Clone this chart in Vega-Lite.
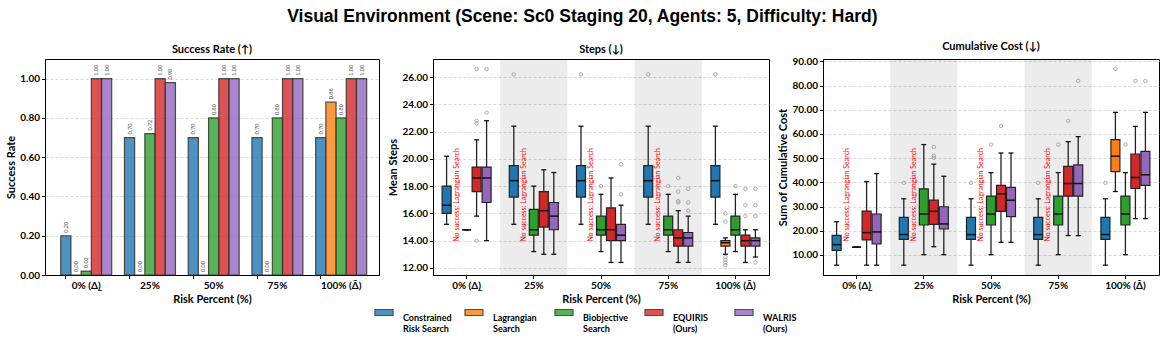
{
  "$schema": "https://vega.github.io/schema/vega-lite/v6.json",
  "padding": {"left": 5, "top": 8, "right": 5, "bottom": 5},
  "background": "white",
  "bounds": "flush",
  "spacing": 54,
  "title": {"text": "Visual Environment (Scene: Sc0 Staging 20, Agents: 5, Difficulty: Hard)", "fontSize": 17.5, "fontWeight": "bold", "font": "Liberation Sans", "anchor": "middle", "offset": 15, "color": "black"},
  "config": {
    "font": "Lato",
    "view": {"stroke": "black", "strokeWidth": 1},
    "axis": {"labelFont": "Lato", "labelFontWeight": "bold", "labelFontSize": 10, "labelColor": "black", "titleFont": "Lato", "titleFontSize": 11, "titleFontWeight": "bold", "titleColor": "black", "tickColor": "black", "tickSize": 3.5, "domainColor": "black", "gridColor": "#c8c8c8", "gridDash": [3, 2], "gridWidth": 0.7, "labelPadding": 2, "titlePadding": 3},
    "axisX": {"grid": false, "labelAngle": 0},
    "axisY": {"labelOverlap": false, "labelBound": false},
    "title": {"fontSize": 11, "fontWeight": "bold", "color": "black", "offset": 4, "font": "Lato"},
    "legend": {"padding": 0}
  },
  "datasets": {
    "success": [
      {"risk": "0% (Δ\u0332)", "method": "Constrained Risk Search", "rate": 0.20},
      {"risk": "0% (Δ\u0332)", "method": "Lagrangian Search", "rate": 0.00},
      {"risk": "0% (Δ\u0332)", "method": "Biobjective Search", "rate": 0.02},
      {"risk": "0% (Δ\u0332)", "method": "EQUIRIS (Ours)", "rate": 1.00},
      {"risk": "0% (Δ\u0332)", "method": "WALRIS (Ours)", "rate": 1.00},
      {"risk": "25%", "method": "Constrained Risk Search", "rate": 0.70},
      {"risk": "25%", "method": "Lagrangian Search", "rate": 0.00},
      {"risk": "25%", "method": "Biobjective Search", "rate": 0.72},
      {"risk": "25%", "method": "EQUIRIS (Ours)", "rate": 1.00},
      {"risk": "25%", "method": "WALRIS (Ours)", "rate": 0.98},
      {"risk": "50%", "method": "Constrained Risk Search", "rate": 0.70},
      {"risk": "50%", "method": "Lagrangian Search", "rate": 0.00},
      {"risk": "50%", "method": "Biobjective Search", "rate": 0.80},
      {"risk": "50%", "method": "EQUIRIS (Ours)", "rate": 1.00},
      {"risk": "50%", "method": "WALRIS (Ours)", "rate": 1.00},
      {"risk": "75%", "method": "Constrained Risk Search", "rate": 0.70},
      {"risk": "75%", "method": "Lagrangian Search", "rate": 0.00},
      {"risk": "75%", "method": "Biobjective Search", "rate": 0.80},
      {"risk": "75%", "method": "EQUIRIS (Ours)", "rate": 1.00},
      {"risk": "75%", "method": "WALRIS (Ours)", "rate": 1.00},
      {"risk": "100% (Δ\u0304)", "method": "Constrained Risk Search", "rate": 0.70},
      {"risk": "100% (Δ\u0304)", "method": "Lagrangian Search", "rate": 0.88},
      {"risk": "100% (Δ\u0304)", "method": "Biobjective Search", "rate": 0.80},
      {"risk": "100% (Δ\u0304)", "method": "EQUIRIS (Ours)", "rate": 1.00},
      {"risk": "100% (Δ\u0304)", "method": "WALRIS (Ours)", "rate": 1.00}
    ],
    "bands": [{"risk": "25%"}, {"risk": "75%"}],
    "nosuccess": [
      {"risk": "0% (Δ\u0332)", "method": "Lagrangian Search", "note": "No success: Lagrangian Search"},
      {"risk": "25%", "method": "Lagrangian Search", "note": "No success: Lagrangian Search"},
      {"risk": "50%", "method": "Lagrangian Search", "note": "No success: Lagrangian Search"},
      {"risk": "75%", "method": "Lagrangian Search", "note": "No success: Lagrangian Search"}
    ],
    "steps": [
      {"risk": "0% (Δ\u0332)", "method": "Constrained Risk Search", "lo": 15.2, "q1": 16.0, "med": 16.6, "q3": 18.0, "hi": 20.2},
      {"risk": "0% (Δ\u0332)", "method": "Biobjective Search", "lo": 14.8, "q1": 14.8, "med": 14.8, "q3": 14.8, "hi": 14.8},
      {"risk": "0% (Δ\u0332)", "method": "EQUIRIS (Ours)", "lo": 15.8, "q1": 17.6, "med": 18.6, "q3": 19.4, "hi": 21.4},
      {"risk": "0% (Δ\u0332)", "method": "WALRIS (Ours)", "lo": 14.0, "q1": 16.8, "med": 18.6, "q3": 19.4, "hi": 22.8},
      {"risk": "25%", "method": "Constrained Risk Search", "lo": 15.2, "q1": 17.2, "med": 18.4, "q3": 19.5, "hi": 22.4},
      {"risk": "25%", "method": "Biobjective Search", "lo": 13.2, "q1": 14.4, "med": 14.8, "q3": 16.3, "hi": 18.0},
      {"risk": "25%", "method": "EQUIRIS (Ours)", "lo": 13.0, "q1": 15.0, "med": 16.2, "q3": 17.6, "hi": 19.2},
      {"risk": "25%", "method": "WALRIS (Ours)", "lo": 13.0, "q1": 14.8, "med": 15.8, "q3": 16.8, "hi": 19.0},
      {"risk": "50%", "method": "Constrained Risk Search", "lo": 15.2, "q1": 17.2, "med": 18.4, "q3": 19.5, "hi": 22.4},
      {"risk": "50%", "method": "Biobjective Search", "lo": 13.2, "q1": 14.4, "med": 14.8, "q3": 15.8, "hi": 17.4},
      {"risk": "50%", "method": "EQUIRIS (Ours)", "lo": 12.4, "q1": 14.0, "med": 14.8, "q3": 16.4, "hi": 18.6},
      {"risk": "50%", "method": "WALRIS (Ours)", "lo": 12.4, "q1": 14.0, "med": 14.4, "q3": 15.2, "hi": 16.6},
      {"risk": "75%", "method": "Constrained Risk Search", "lo": 15.2, "q1": 17.2, "med": 18.4, "q3": 19.5, "hi": 22.4},
      {"risk": "75%", "method": "Biobjective Search", "lo": 13.2, "q1": 14.4, "med": 14.8, "q3": 15.8, "hi": 17.4},
      {"risk": "75%", "method": "EQUIRIS (Ours)", "lo": 12.4, "q1": 13.6, "med": 14.2, "q3": 14.8, "hi": 16.2},
      {"risk": "75%", "method": "WALRIS (Ours)", "lo": 12.4, "q1": 13.6, "med": 14.2, "q3": 14.6, "hi": 15.8},
      {"risk": "100% (Δ\u0304)", "method": "Constrained Risk Search", "lo": 15.2, "q1": 17.2, "med": 18.4, "q3": 19.5, "hi": 22.4},
      {"risk": "100% (Δ\u0304)", "method": "Lagrangian Search", "lo": 13.0, "q1": 13.6, "med": 13.85, "q3": 14.0, "hi": 14.2},
      {"risk": "100% (Δ\u0304)", "method": "Biobjective Search", "lo": 13.2, "q1": 14.4, "med": 14.8, "q3": 15.8, "hi": 17.4},
      {"risk": "100% (Δ\u0304)", "method": "EQUIRIS (Ours)", "lo": 12.4, "q1": 13.6, "med": 14.0, "q3": 14.4, "hi": 14.8},
      {"risk": "100% (Δ\u0304)", "method": "WALRIS (Ours)", "lo": 12.8, "q1": 13.6, "med": 14.0, "q3": 14.2, "hi": 14.8}
    ],
    "steps_out": [
      {"risk": "0% (Δ\u0332)", "method": "EQUIRIS (Ours)", "value": 26.6},
      {"risk": "0% (Δ\u0332)", "method": "EQUIRIS (Ours)", "value": 22.8},
      {"risk": "0% (Δ\u0332)", "method": "EQUIRIS (Ours)", "value": 22.6},
      {"risk": "0% (Δ\u0332)", "method": "EQUIRIS (Ours)", "value": 14.0},
      {"risk": "0% (Δ\u0332)", "method": "WALRIS (Ours)", "value": 26.6},
      {"risk": "0% (Δ\u0332)", "method": "WALRIS (Ours)", "value": 23.4},
      {"risk": "25%", "method": "Constrained Risk Search", "value": 26.2},
      {"risk": "50%", "method": "Constrained Risk Search", "value": 26.2},
      {"risk": "50%", "method": "Biobjective Search", "value": 18.0},
      {"risk": "50%", "method": "WALRIS (Ours)", "value": 19.6},
      {"risk": "50%", "method": "WALRIS (Ours)", "value": 17.4},
      {"risk": "75%", "method": "Constrained Risk Search", "value": 26.2},
      {"risk": "75%", "method": "Biobjective Search", "value": 18.0},
      {"risk": "75%", "method": "EQUIRIS (Ours)", "value": 18.6},
      {"risk": "75%", "method": "EQUIRIS (Ours)", "value": 17.6},
      {"risk": "75%", "method": "EQUIRIS (Ours)", "value": 16.9},
      {"risk": "75%", "method": "EQUIRIS (Ours)", "value": 16.8},
      {"risk": "75%", "method": "WALRIS (Ours)", "value": 17.8},
      {"risk": "75%", "method": "WALRIS (Ours)", "value": 16.8},
      {"risk": "75%", "method": "WALRIS (Ours)", "value": 16.2},
      {"risk": "100% (Δ\u0304)", "method": "Constrained Risk Search", "value": 26.2},
      {"risk": "100% (Δ\u0304)", "method": "Lagrangian Search", "value": 16.0},
      {"risk": "100% (Δ\u0304)", "method": "Lagrangian Search", "value": 15.4},
      {"risk": "100% (Δ\u0304)", "method": "Lagrangian Search", "value": 12.8},
      {"risk": "100% (Δ\u0304)", "method": "Lagrangian Search", "value": 12.6},
      {"risk": "100% (Δ\u0304)", "method": "Lagrangian Search", "value": 12.4},
      {"risk": "100% (Δ\u0304)", "method": "Lagrangian Search", "value": 12.2},
      {"risk": "100% (Δ\u0304)", "method": "Biobjective Search", "value": 18.0},
      {"risk": "100% (Δ\u0304)", "method": "EQUIRIS (Ours)", "value": 17.8},
      {"risk": "100% (Δ\u0304)", "method": "EQUIRIS (Ours)", "value": 16.6},
      {"risk": "100% (Δ\u0304)", "method": "EQUIRIS (Ours)", "value": 15.8},
      {"risk": "100% (Δ\u0304)", "method": "WALRIS (Ours)", "value": 17.8},
      {"risk": "100% (Δ\u0304)", "method": "WALRIS (Ours)", "value": 16.6},
      {"risk": "100% (Δ\u0304)", "method": "WALRIS (Ours)", "value": 15.8},
      {"risk": "100% (Δ\u0304)", "method": "WALRIS (Ours)", "value": 12.4}
    ],
    "cost": [
      {"risk": "0% (Δ\u0332)", "method": "Constrained Risk Search", "lo": 5.75, "q1": 11.9, "med": 14.25, "q3": 18.1, "hi": 23.7},
      {"risk": "0% (Δ\u0332)", "method": "Biobjective Search", "lo": 13.2, "q1": 13.2, "med": 13.2, "q3": 13.2, "hi": 13.2},
      {"risk": "0% (Δ\u0332)", "method": "EQUIRIS (Ours)", "lo": 5.75, "q1": 16.2, "med": 19.2, "q3": 28.1, "hi": 40.3},
      {"risk": "0% (Δ\u0332)", "method": "WALRIS (Ours)", "lo": 5.75, "q1": 14.5, "med": 19.5, "q3": 26.9, "hi": 43.6},
      {"risk": "25%", "method": "Constrained Risk Search", "lo": 5.75, "q1": 16.45, "med": 18.4, "q3": 25.5, "hi": 33.2},
      {"risk": "25%", "method": "Biobjective Search", "lo": 10.1, "q1": 22.35, "med": 26.9, "q3": 37.3, "hi": 55.6},
      {"risk": "25%", "method": "EQUIRIS (Ours)", "lo": 13.4, "q1": 22.6, "med": 28.0, "q3": 32.6, "hi": 47.5},
      {"risk": "25%", "method": "WALRIS (Ours)", "lo": 10.1, "q1": 20.7, "med": 22.8, "q3": 29.9, "hi": 42.5},
      {"risk": "50%", "method": "Constrained Risk Search", "lo": 5.75, "q1": 16.45, "med": 18.4, "q3": 25.5, "hi": 33.2},
      {"risk": "50%", "method": "Biobjective Search", "lo": 10.1, "q1": 22.35, "med": 26.9, "q3": 34.3, "hi": 44.0},
      {"risk": "50%", "method": "EQUIRIS (Ours)", "lo": 15.2, "q1": 28.0, "med": 35.25, "q3": 38.7, "hi": 52.1},
      {"risk": "50%", "method": "WALRIS (Ours)", "lo": 15.2, "q1": 25.8, "med": 32.6, "q3": 37.9, "hi": 52.1},
      {"risk": "75%", "method": "Constrained Risk Search", "lo": 5.75, "q1": 16.45, "med": 18.4, "q3": 25.5, "hi": 33.2},
      {"risk": "75%", "method": "Biobjective Search", "lo": 10.1, "q1": 22.35, "med": 26.9, "q3": 34.3, "hi": 44.0},
      {"risk": "75%", "method": "EQUIRIS (Ours)", "lo": 18.0, "q1": 34.3, "med": 39.5, "q3": 46.6, "hi": 56.8},
      {"risk": "75%", "method": "WALRIS (Ours)", "lo": 18.0, "q1": 34.3, "med": 39.5, "q3": 47.2, "hi": 58.9},
      {"risk": "100% (Δ\u0304)", "method": "Constrained Risk Search", "lo": 5.75, "q1": 16.45, "med": 18.4, "q3": 25.5, "hi": 33.2},
      {"risk": "100% (Δ\u0304)", "method": "Lagrangian Search", "lo": 36.2, "q1": 44.45, "med": 50.8, "q3": 57.6, "hi": 68.9},
      {"risk": "100% (Δ\u0304)", "method": "Biobjective Search", "lo": 10.1, "q1": 22.35, "med": 26.9, "q3": 34.3, "hi": 44.0},
      {"risk": "100% (Δ\u0304)", "method": "EQUIRIS (Ours)", "lo": 25.0, "q1": 37.45, "med": 42.0, "q3": 51.7, "hi": 63.1},
      {"risk": "100% (Δ\u0304)", "method": "WALRIS (Ours)", "lo": 25.0, "q1": 38.7, "med": 43.1, "q3": 52.8, "hi": 68.9}
    ],
    "cost_out": [
      {"risk": "25%", "method": "Constrained Risk Search", "value": 39.8},
      {"risk": "25%", "method": "EQUIRIS (Ours)", "value": 54.6},
      {"risk": "25%", "method": "EQUIRIS (Ours)", "value": 51.0},
      {"risk": "25%", "method": "EQUIRIS (Ours)", "value": 50.1},
      {"risk": "50%", "method": "Constrained Risk Search", "value": 39.8},
      {"risk": "50%", "method": "Biobjective Search", "value": 55.6},
      {"risk": "50%", "method": "EQUIRIS (Ours)", "value": 63.3},
      {"risk": "75%", "method": "Constrained Risk Search", "value": 39.8},
      {"risk": "75%", "method": "Biobjective Search", "value": 55.6},
      {"risk": "75%", "method": "EQUIRIS (Ours)", "value": 65.4},
      {"risk": "75%", "method": "WALRIS (Ours)", "value": 81.9},
      {"risk": "100% (Δ\u0304)", "method": "Constrained Risk Search", "value": 39.8},
      {"risk": "100% (Δ\u0304)", "method": "Lagrangian Search", "value": 86.9},
      {"risk": "100% (Δ\u0304)", "method": "Biobjective Search", "value": 55.6},
      {"risk": "100% (Δ\u0304)", "method": "EQUIRIS (Ours)", "value": 81.9},
      {"risk": "100% (Δ\u0304)", "method": "WALRIS (Ours)", "value": 81.9}
    ]
  },
  "resolve": {"scale": {"x": "independent", "y": "independent", "xOffset": "independent", "color": "shared"}, "legend": {"color": "shared"}},
  "hconcat": [
    {
      "width": 334, "height": 216,
      "title": "Success Rate (↑)",
      "data": {"name": "success"},
      "layer": [
        {
          "mark": {"type": "bar", "fillOpacity": 0.8, "stroke": "#333", "strokeOpacity": 0.85, "strokeWidth": 1.2},
          "encoding": {
            "x": {"field": "risk", "type": "nominal", "scale": {"domain": ["0% (Δ\u0332)", "25%", "50%", "75%", "100% (Δ\u0304)"], "paddingInner": 0.2, "paddingOuter": 0.22, "align": 0.56}, "axis": {"title": "Risk Percent (%)", "bandPosition": 0.1}},
            "xOffset": {"field": "method", "type": "nominal", "scale": {"domain": ["Constrained Risk Search", "Lagrangian Search", "Biobjective Search", "EQUIRIS (Ours)", "WALRIS (Ours)"], "paddingInner": 0, "paddingOuter": 0}},
            "y": {"field": "rate", "type": "quantitative", "scale": {"domain": [0, 1.1], "nice": false}, "axis": {"title": "Success Rate", "values": [0, 0.2, 0.4, 0.6, 0.8, 1.0], "format": ".2f", "labelOverlap": false}},
            "color": {
              "field": "method", "type": "nominal",
              "scale": {"domain": ["Constrained Risk Search", "Lagrangian Search", "Biobjective Search", "EQUIRIS (Ours)", "WALRIS (Ours)"], "range": ["#1f77b4", "#ff7f0e", "#2ca02c", "#d62728", "#9467bd"]},
              "legend": {
                "orient": "none", "legendX": 329, "legendY": 249, "direction": "horizontal", "columns": 5, "title": null,
                "labelFont": "Lato", "labelFontSize": 9, "labelFontWeight": "bold", "labelColor": "black",
                "symbolType": "M-1,-0.944H1V-0.278H-1Z", "symbolSize": 324, "symbolStrokeColor": "#333", "symbolStrokeWidth": 1.2, "symbolOpacity": 0.8,
                "labelOffset": 9, "columnPadding": 10, "gridAlign": "all", "labelBaseline": "middle",
                "labelExpr": "{'Constrained Risk Search': ['Constrained', 'Risk Search'], 'Lagrangian Search': ['Lagrangian', 'Search'], 'Biobjective Search': ['Biobjective', 'Search'], 'EQUIRIS (Ours)': ['EQUIRIS', '\u00a0\u00a0\u00a0(Ours)'], 'WALRIS (Ours)': ['WALRIS', '\u00a0\u00a0(Ours)']}[datum.label]"
              }
            }
          }
        },
        {
          "mark": {"type": "text", "angle": 270, "align": "left", "baseline": "middle", "dx": 3, "fontSize": 5.5, "color": "#555"},
          "encoding": {
            "x": {"field": "risk", "type": "nominal", "scale": {"domain": ["0% (Δ\u0332)", "25%", "50%", "75%", "100% (Δ\u0304)"], "paddingInner": 0.2, "paddingOuter": 0.22, "align": 0.56}},
            "xOffset": {"field": "method", "type": "nominal", "scale": {"domain": ["Constrained Risk Search", "Lagrangian Search", "Biobjective Search", "EQUIRIS (Ours)", "WALRIS (Ours)"], "paddingInner": 0, "paddingOuter": 0}},
            "y": {"field": "rate", "type": "quantitative"},
            "text": {"field": "rate", "type": "quantitative", "format": ".2f"}
          }
        }
      ]
    },
    {
      "width": 336, "height": 216,
      "title": "Steps (↓)",
      "encoding": {
        "x": {"field": "risk", "type": "nominal", "scale": {"domain": ["0% (Δ\u0332)", "25%", "50%", "75%", "100% (Δ\u0304)"], "paddingInner": 0, "paddingOuter": 0}, "axis": {"title": "Risk Percent (%)"}},
        "xOffset": {"field": "method", "type": "nominal", "scale": {"domain": ["Constrained Risk Search", "Lagrangian Search", "Biobjective Search", "EQUIRIS (Ours)", "WALRIS (Ours)"], "paddingInner": 0.1, "paddingOuter": 0.91}}
      },
      "layer": [
        {"data": {"name": "bands"}, "mark": {"type": "bar", "color": "black", "opacity": 0.075}, "encoding": {"xOffset": null}},
        {"data": {"name": "steps"}, "mark": {"type": "rule", "color": "#222", "strokeWidth": 1.3},
         "encoding": {"y": {"field": "lo", "type": "quantitative", "scale": {"domain": [11.48, 27.33], "nice": false, "zero": false}, "axis": {"title": "Mean Steps", "values": [12, 14, 16, 18, 20, 22, 24, 26], "format": ".2f", "labelOverlap": false}}, "y2": {"field": "hi"}}},
        {"data": {"name": "steps"}, "mark": {"type": "bar", "stroke": "#222", "strokeWidth": 1.2},
         "encoding": {"y": {"field": "q1", "type": "quantitative", "axis": {"title": "Mean Steps", "values": [12, 14, 16, 18, 20, 22, 24, 26], "format": ".2f", "labelOverlap": false}}, "y2": {"field": "q3"}, "color": {"field": "method", "type": "nominal"}}},
        {"data": {"name": "steps"}, "mark": {"type": "tick", "color": "#111", "size": 9, "thickness": 1.5, "opacity": 1},
         "encoding": {"y": {"field": "med", "type": "quantitative", "axis": {"title": "Mean Steps", "values": [12, 14, 16, 18, 20, 22, 24, 26], "format": ".2f", "labelOverlap": false}}}},
        {"data": {"name": "steps"}, "mark": {"type": "tick", "color": "#111", "size": 5, "thickness": 1.3, "opacity": 1},
         "encoding": {"y": {"field": "lo", "type": "quantitative", "axis": {"title": "Mean Steps", "values": [12, 14, 16, 18, 20, 22, 24, 26], "format": ".2f", "labelOverlap": false}}}},
        {"data": {"name": "steps"}, "mark": {"type": "tick", "color": "#111", "size": 5, "thickness": 1.3, "opacity": 1},
         "encoding": {"y": {"field": "hi", "type": "quantitative", "axis": {"title": "Mean Steps", "values": [12, 14, 16, 18, 20, 22, 24, 26], "format": ".2f", "labelOverlap": false}}}},
        {"data": {"name": "steps_out"}, "mark": {"type": "point", "filled": false, "stroke": "#999", "strokeWidth": 0.8, "size": 12, "opacity": 1},
         "encoding": {"y": {"field": "value", "type": "quantitative", "axis": {"title": "Mean Steps", "values": [12, 14, 16, 18, 20, 22, 24, 26], "format": ".2f", "labelOverlap": false}}}},
        {"data": {"name": "nosuccess"}, "mark": {"type": "text", "angle": 270, "align": "left", "baseline": "middle", "color": "red", "fontSize": 7},
         "encoding": {"y": {"datum": 13.93, "axis": {"title": "Mean Steps", "values": [12, 14, 16, 18, 20, 22, 24, 26], "format": ".2f", "labelOverlap": false}}, "text": {"field": "note"}}}
      ]
    },
    {
      "width": 336, "height": 216,
      "title": "Cumulative Cost (↓)",
      "encoding": {
        "x": {"field": "risk", "type": "nominal", "scale": {"domain": ["0% (Δ\u0332)", "25%", "50%", "75%", "100% (Δ\u0304)"], "paddingInner": 0, "paddingOuter": 0}, "axis": {"title": "Risk Percent (%)"}},
        "xOffset": {"field": "method", "type": "nominal", "scale": {"domain": ["Constrained Risk Search", "Lagrangian Search", "Biobjective Search", "EQUIRIS (Ours)", "WALRIS (Ours)"], "paddingInner": 0.1, "paddingOuter": 0.91}}
      },
      "layer": [
        {"data": {"name": "bands"}, "mark": {"type": "bar", "color": "black", "opacity": 0.075}, "encoding": {"xOffset": null}},
        {"data": {"name": "cost"}, "mark": {"type": "rule", "color": "#222", "strokeWidth": 1.3},
         "encoding": {"y": {"field": "lo", "type": "quantitative", "scale": {"domain": [1.7, 90.95], "nice": false, "zero": false}, "axis": {"title": "Sum of Cumulative Cost", "values": [10, 20, 30, 40, 50, 60, 70, 80, 90], "format": ".2f", "labelOverlap": false}}, "y2": {"field": "hi"}}},
        {"data": {"name": "cost"}, "mark": {"type": "bar", "stroke": "#222", "strokeWidth": 1.2},
         "encoding": {"y": {"field": "q1", "type": "quantitative", "axis": {"title": "Sum of Cumulative Cost", "values": [10, 20, 30, 40, 50, 60, 70, 80, 90], "format": ".2f", "labelOverlap": false}}, "y2": {"field": "q3"}, "color": {"field": "method", "type": "nominal"}}},
        {"data": {"name": "cost"}, "mark": {"type": "tick", "color": "#111", "size": 9, "thickness": 1.5, "opacity": 1},
         "encoding": {"y": {"field": "med", "type": "quantitative", "axis": {"title": "Sum of Cumulative Cost", "values": [10, 20, 30, 40, 50, 60, 70, 80, 90], "format": ".2f", "labelOverlap": false}}}},
        {"data": {"name": "cost"}, "mark": {"type": "tick", "color": "#111", "size": 5, "thickness": 1.3, "opacity": 1},
         "encoding": {"y": {"field": "lo", "type": "quantitative", "axis": {"title": "Sum of Cumulative Cost", "values": [10, 20, 30, 40, 50, 60, 70, 80, 90], "format": ".2f", "labelOverlap": false}}}},
        {"data": {"name": "cost"}, "mark": {"type": "tick", "color": "#111", "size": 5, "thickness": 1.3, "opacity": 1},
         "encoding": {"y": {"field": "hi", "type": "quantitative", "axis": {"title": "Sum of Cumulative Cost", "values": [10, 20, 30, 40, 50, 60, 70, 80, 90], "format": ".2f", "labelOverlap": false}}}},
        {"data": {"name": "cost_out"}, "mark": {"type": "point", "filled": false, "stroke": "#999", "strokeWidth": 0.8, "size": 12, "opacity": 1},
         "encoding": {"y": {"field": "value", "type": "quantitative", "axis": {"title": "Sum of Cumulative Cost", "values": [10, 20, 30, 40, 50, 60, 70, 80, 90], "format": ".2f", "labelOverlap": false}}}},
        {"data": {"name": "nosuccess"}, "mark": {"type": "text", "angle": 270, "align": "left", "baseline": "middle", "color": "red", "fontSize": 7},
         "encoding": {"y": {"datum": 15.5, "axis": {"title": "Sum of Cumulative Cost", "values": [10, 20, 30, 40, 50, 60, 70, 80, 90], "format": ".2f", "labelOverlap": false}}, "text": {"field": "note"}}}
      ]
    }
  ]
}
